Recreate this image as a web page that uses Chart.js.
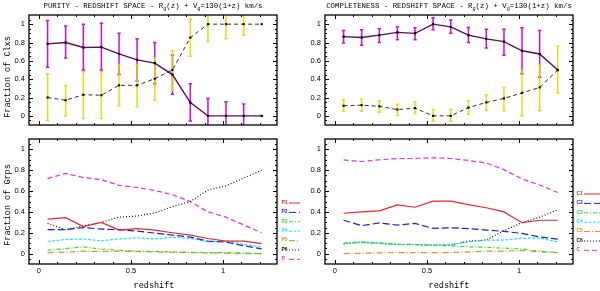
<!DOCTYPE html>
<html>
<head>
<meta charset="utf-8">
<script src="https://cdn.jsdelivr.net/npm/chart.js@4.4.0/dist/chart.umd.min.js"></script>
<style>
  html, body { margin: 0; padding: 0; background: #fff; }
  #wrap { position: relative; width: 600px; height: 291px; }
  #wrap canvas { position: absolute; left: 0; top: 0; }
</style>
</head>
<body>
<div id="wrap">
  <canvas id="cTL" width="600" height="291"></canvas>
  <canvas id="cBL" width="600" height="291"></canvas>
  <canvas id="cTR" width="600" height="291"></canvas>
  <canvas id="cBR" width="600" height="291"></canvas>
</div>
<script>
// redshift bins (centres)
const zBins = [0.047, 0.145, 0.241, 0.339, 0.435, 0.533, 0.629, 0.725, 0.822, 0.918, 1.016, 1.112, 1.21];

// top left: purity
const purity   = [0.785, 0.80, 0.745, 0.75, 0.675, 0.61, 0.575, 0.45, 0.145, 0, 0, 0, 0];
const purityHi = [1.04, 0.98, 1.0, 1.01, 0.90, 0.84, 0.80, 0.665, 0.35, 0.19, 0.155, 0.13, null];
const purityLo = [0.53, 0.63, 0.50, 0.50, 0.45, 0.38, 0.35, 0.235, -0.055, -0.19, -0.155, -0.13, null];
const purContam   = [0.20, 0.17, 0.23, 0.225, 0.333, 0.333, 0.405, 0.50, 0.853, 1, 1, 1, 1];
const purContamHi = [0.46, 0.33, 0.48, 0.48, 0.56, 0.56, 0.63, 0.71, 1.055, 1.19, 1.16, 1.12, null];
const purContamLo = [-0.05, 0.0, -0.03, -0.03, 0.11, 0.10, 0.17, 0.28, 0.65, 0.81, 0.84, 0.88, null];

// top right: completeness
const compl   = [0.864, 0.854, 0.88, 0.91, 0.90, 1.0, 0.97, 0.88, 0.84, 0.81, 0.71, 0.675, 0.5];
const complHi = [0.93, 0.94, 0.95, 0.97, 0.96, 1.07, 1.045, 0.965, 0.945, 0.945, 0.96, 0.93, null];
const complLo = [0.795, 0.77, 0.80, 0.83, 0.83, 0.94, 0.90, 0.80, 0.74, 0.66, 0.46, 0.42, null];
const compContam   = [0.11, 0.117, 0.104, 0.068, 0.084, 0, 0, 0.09, 0.146, 0.19, 0.25, 0.31, 0.5];
const compContamHi = [0.175, 0.185, 0.165, 0.127, 0.15, 0.068, 0.068, 0.165, 0.23, 0.31, 0.5, 0.56, 0.76];
const compContamLo = [0.05, 0.05, 0.04, 0.003, 0.025, -0.06, -0.06, 0.017, 0.06, 0.055, 0, 0.055, 0.25];

// bottom left: fraction of groups (purity classes)
const purP1 = [0.33, 0.345, 0.26, 0.30, 0.225, 0.24, 0.225, 0.20, 0.177, 0.145, 0.12, 0.12, 0.095];
const purP2 = [0.23, 0.23, 0.25, 0.235, 0.23, 0.215, 0.197, 0.177, 0.158, 0.12, 0.11, 0.075, 0.045];
const purP3 = [0.032, 0.048, 0.065, 0.042, 0.032, 0.023, 0.02, 0.016, 0.013, 0.01, 0.01, 0.005, 0];
const purP4 = [0.116, 0.135, 0.14, 0.122, 0.142, 0.152, 0.14, 0.155, 0.145, 0.113, 0.122, 0.09, 0.065];
const purP5 = [0.01, 0.013, 0.023, 0.02, 0.023, 0.02, 0.016, 0.013, 0.01, 0.007, 0.003, 0, 0];
const purP6 = [0.29, 0.23, 0.265, 0.30, 0.35, 0.36, 0.39, 0.45, 0.50, 0.61, 0.65, 0.725, 0.80];
const purP  = [0.72, 0.77, 0.73, 0.71, 0.655, 0.635, 0.606, 0.565, 0.50, 0.40, 0.35, 0.275, 0.20];

// bottom right: fraction of groups (completeness classes)
const compC1 = [0.387, 0.40, 0.41, 0.468, 0.445, 0.503, 0.503, 0.47, 0.44, 0.40, 0.297, 0.32, 0.32];
const compC2 = [0.32, 0.268, 0.294, 0.274, 0.29, 0.242, 0.248, 0.239, 0.226, 0.213, 0.194, 0.16, 0.139];
const compC3 = [0.10, 0.113, 0.103, 0.09, 0.087, 0.08, 0.074, 0.065, 0.06, 0.052, 0.045, 0.023, 0.01];
const compC4 = [0.097, 0.106, 0.097, 0.087, 0.087, 0.084, 0.087, 0.113, 0.129, 0.129, 0.148, 0.148, 0.113];
const compC5 = [0, 0.003, 0.006, 0.01, 0.01, 0.01, 0.01, 0.016, 0.023, 0.023, 0.03, 0.016, 0.01];
const compC6 = [0.094, 0.11, 0.10, 0.087, 0.087, 0.08, 0.08, 0.12, 0.13, 0.22, 0.297, 0.35, 0.42];
const compC  = [0.90, 0.884, 0.90, 0.913, 0.913, 0.92, 0.913, 0.894, 0.87, 0.806, 0.716, 0.658, 0.587];

const purLabels  = ['P1', 'P2', 'P3', 'P4', 'P5', 'P6', 'P'];
const compLabels = ['C1', 'C2', 'C3', 'C4', 'C5', 'C6', 'C'];

const yLabelTicks = [0, 0.2, 0.4, 0.6, 0.8, 1];
const xLabelTicks = [0, 0.5, 1];

const X_MIN = -0.054, X_MAX = 1.293;
const Y_MIN = -0.1, Y_MAX = 1.1;

const classColors = ['#e8272b', '#1f1fd0', '#33dd33', '#1de6e6', '#d9902a', '#111111', '#e030e0'];
const classDash = [[], [7, 3], [4, 2, 1, 2], [3, 1.5], [6, 2, 1, 2], [1, 2], [5, 3]];

const tickFont = { family: 'Liberation Sans', size: 7.5 };

function pts(ys) {
  return ys.map((v, i) => ({ x: zBins[i], y: v }));
}

// frame with inward ticks on all four sides
const frameTicks = {
  id: 'frameTicks',
  afterDraw(chart) {
    const { ctx, chartArea: a, scales: { x, y } } = chart;
    ctx.save();
    ctx.strokeStyle = '#000';
    ctx.lineWidth = 1;
    ctx.beginPath();
    for (let k = 0; k <= 12; k++) {
      const px = Math.round(x.getPixelForValue(k / 10)) + 0.5;
      const len = k % 5 === 0 ? 4 : 2;
      ctx.moveTo(px, a.bottom); ctx.lineTo(px, a.bottom - len);
      ctx.moveTo(px, a.top); ctx.lineTo(px, a.top + len);
    }
    for (let k = -1; k <= 21; k++) {
      const py = Math.round(y.getPixelForValue(k / 20)) + 0.5;
      const len = k % 4 === 0 ? 4 : 2;
      ctx.moveTo(a.left, py); ctx.lineTo(a.left + len, py);
      ctx.moveTo(a.right, py); ctx.lineTo(a.right - len, py);
    }
    ctx.stroke();
    ctx.lineWidth = 1.3;
    ctx.strokeRect(a.left, a.top, a.width, a.height);
    ctx.restore();
  }
};

function errorBars(sets) {
  return {
    id: 'errorBars',
    beforeDatasetsDraw(chart) {
      const { ctx, chartArea: a, scales: { x, y } } = chart;
      ctx.save();
      ctx.beginPath();
      ctx.rect(a.left, a.top, a.width, a.height);
      ctx.clip();
      ctx.lineWidth = 1.5;
      sets.forEach(s => {
        ctx.strokeStyle = s.color;
        zBins.forEach((z, i) => {
          if (s.hi[i] == null) return;
          const px = x.getPixelForValue(z);
          const top = y.getPixelForValue(s.hi[i]);
          const bot = y.getPixelForValue(s.lo[i]);
          ctx.beginPath();
          ctx.moveTo(px, top); ctx.lineTo(px, bot);
          ctx.moveTo(px - 1.7, top); ctx.lineTo(px + 1.7, top);
          ctx.moveTo(px - 1.7, bot); ctx.lineTo(px + 1.7, bot);
          ctx.stroke();
        });
      });
      ctx.restore();
    }
  };
}

function classLegend(labels, lx, x0, x1, y0, step) {
  return {
    id: 'classLegend',
    afterDraw(chart) {
      const ctx = chart.ctx;
      ctx.save();
      ctx.font = 'bold 5px "Liberation Sans"';
      ctx.textBaseline = 'middle';
      labels.forEach((t, i) => {
        const yy = y0 + i * step;
        ctx.fillStyle = classColors[i];
        ctx.fillText(t, lx, yy);
        ctx.strokeStyle = classColors[i];
        ctx.lineWidth = 1;
        ctx.setLineDash(classDash[i]);
        ctx.beginPath();
        ctx.moveTo(x0, yy + 0.5); ctx.lineTo(x1, yy + 0.5);
        ctx.stroke();
      });
      ctx.restore();
    }
  };
}

function drawTitle(ctx, cx, cy, head) {
  const big = '7.4px "Liberation Mono"';
  const small = '5.2px "Liberation Mono"';
  const parts = [[head + ' - REDSHIFT SPACE - R', big, 0], ['g', small, 2], ['(z) + V', big, 0], ['g', small, 2], ['=130(1+z) km/s', big, 0]];
  let w = 0;
  parts.forEach(p => { ctx.font = p[1]; w += ctx.measureText(p[0]).width; });
  let xx = cx - w / 2;
  parts.forEach(p => {
    ctx.font = p[1];
    ctx.fillText(p[0], xx, cy + p[2]);
    xx += ctx.measureText(p[0]).width;
  });
}

const figureText = {
  id: 'figureText',
  afterDraw(chart) {
    const ctx = chart.ctx;
    ctx.save();
    ctx.fillStyle = '#000';
    ctx.textBaseline = 'middle';
    ctx.textAlign = 'left';
    drawTitle(ctx, 153, 6.5, 'PURITY');
    drawTitle(ctx, 449, 6.5, 'COMPLETENESS');
    ctx.font = '8.5px "Liberation Mono"';
    ctx.textAlign = 'center';
    ctx.fillText('redshift', 154, 286);
    ctx.fillText('redshift', 449, 286);
    ctx.translate(8, 77);
    ctx.rotate(-Math.PI / 2);
    ctx.fillText('Fraction of Clxs', 0, 0);
    ctx.rotate(Math.PI / 2);
    ctx.translate(0, 128);
    ctx.rotate(-Math.PI / 2);
    ctx.fillText('Fraction of Grps', 0, 0);
    ctx.restore();
  }
};

function scalesFor(showX) {
  return {
    x: {
      type: 'linear', min: X_MIN, max: X_MAX, display: showX,
      grid: { display: false, drawTicks: false }, border: { display: false },
      ticks: { font: tickFont, color: '#000', padding: 2, maxRotation: 0, callback: v => String(v) },
      afterBuildTicks: s => { s.ticks = xLabelTicks.map(v => ({ value: v })); },
      afterFit: s => { s.height = 14; }
    },
    y: {
      min: Y_MIN, max: Y_MAX,
      grid: { display: false, drawTicks: false }, border: { display: false },
      ticks: { font: tickFont, color: '#000', padding: 4, callback: v => String(v) },
      afterBuildTicks: s => { s.ticks = yLabelTicks.map(v => ({ value: v })); },
      afterFit: s => { s.width = 22; }
    }
  };
}

function baseOptions(padding, showX) {
  return {
    responsive: false,
    animation: false,
    events: [],
    layout: { padding },
    plugins: { legend: { display: false }, tooltip: { enabled: false } },
    scales: scalesFor(showX)
  };
}

function fractionSets(main, contam) {
  return [
    {
      data: pts(main), borderColor: '#620a62', borderWidth: 1.4, tension: 0,
      pointStyle: 'rect', pointRadius: 1.6, pointBackgroundColor: '#000', pointBorderWidth: 0
    },
    {
      data: pts(contam), borderColor: '#33331a', borderWidth: 1, borderDash: [4, 3], tension: 0,
      pointStyle: 'rect', pointRadius: 1.5, pointBackgroundColor: '#000', pointBorderWidth: 0
    }
  ];
}

function classSets(series) {
  return series.map((s, i) => ({
    data: pts(s), borderColor: classColors[i], borderWidth: 1.2, borderDash: classDash[i],
    tension: 0, pointRadius: 0
  }));
}

new Chart(document.getElementById('cTL'), {
  type: 'line',
  data: { datasets: fractionSets(purity, purContam) },
  options: baseOptions({ left: 7, right: 323, top: 15, bottom: 152 }, false),
  plugins: [figureText, errorBars([
    { color: '#cc10cc', hi: purityHi, lo: purityLo },
    { color: 'rgba(218,218,0,0.9)', hi: purContamHi, lo: purContamLo }
  ]), frameTicks]
});

new Chart(document.getElementById('cBL'), {
  type: 'line',
  data: { datasets: classSets([purP1, purP2, purP3, purP4, purP5, purP6, purP]) },
  options: baseOptions({ left: 7, right: 323, top: 139, bottom: 13 }, true),
  plugins: [frameTicks, classLegend(purLabels, 281.5, 289, 300, 202.5, 9.4)]
});

new Chart(document.getElementById('cTR'), {
  type: 'line',
  data: { datasets: fractionSets(compl, compContam) },
  options: baseOptions({ left: 303, right: 27, top: 15, bottom: 152 }, false),
  plugins: [errorBars([
    { color: '#cc10cc', hi: complHi, lo: complLo },
    { color: 'rgba(218,218,0,0.9)', hi: compContamHi, lo: compContamLo }
  ]), frameTicks]
});

new Chart(document.getElementById('cBR'), {
  type: 'line',
  data: { datasets: classSets([compC1, compC2, compC3, compC4, compC5, compC6, compC]) },
  options: baseOptions({ left: 303, right: 27, top: 139, bottom: 13 }, true),
  plugins: [frameTicks, classLegend(compLabels, 576.5, 584, 600, 193.5, 9.4)]
});
</script>
</body>
</html>
